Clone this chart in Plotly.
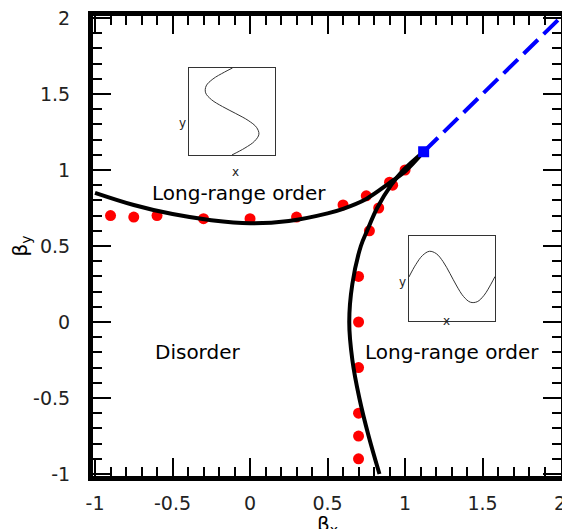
import plotly.graph_objects as go

# phase boundary (upper branch), beta_x -> beta_y
upper_x = [-1.0, -0.75, -0.5, -0.25, 0.0, 0.25, 0.5, 0.6, 0.75, 0.9, 1.0, 1.12]
upper_y = [0.85, 0.77, 0.71, 0.67, 0.65, 0.665, 0.715, 0.745, 0.81, 0.915, 0.99, 1.12]

# phase boundary (right branch)
lower_y = [1.12, 1.0, 0.9, 0.75, 0.6, 0.5, 0.25, 0.0, -0.25, -0.5, -0.75, -1.0]
lower_x = [1.12, 0.99, 0.91, 0.82, 0.755, 0.715, 0.66, 0.64, 0.66, 0.705, 0.765, 0.835]

# simulation points
pts_x = [-0.9, -0.75, -0.6, -0.3, 0.0, 0.3, 0.6, 0.75, 0.9, 1.0,
         0.92, 0.83, 0.77, 0.7, 0.7, 0.7, 0.7, 0.7, 0.7]
pts_y = [0.70, 0.69, 0.70, 0.68, 0.68, 0.69, 0.77, 0.83, 0.92, 1.0,
         0.90, 0.75, 0.60, 0.30, 0.0, -0.30, -0.60, -0.75, -0.90]

# critical point and first-order line
crit_x = [1.12]
crit_y = [1.12]
diag_x = [1.12, 2.0]
diag_y = [1.12, 2.0]

# inset sketches (one period of the modulation)
wave_t = [0.0, 0.5, 1.0, 1.5, 2.0, 2.5, 3.0, 3.5, 4.0, 4.5, 5.0, 5.5, 6.0, 6.3]
wave_v = [0.0, 0.48, 0.84, 1.0, 0.91, 0.6, 0.14, -0.35, -0.76, -0.98, -0.96, -0.71, -0.28, 0.02]

tick_vals = [-1, -0.5, 0, 0.5, 1, 1.5, 2]
tick_text = ["-1", "-0.5", "0", "0.5", "1", "1.5", "2"]

fig = go.Figure()

fig.add_trace(go.Scatter(x=pts_x, y=pts_y, mode="markers",
                         marker=dict(color="#ff0000", size=11), showlegend=False))
fig.add_trace(go.Scatter(x=upper_x, y=upper_y, mode="lines",
                         line=dict(color="black", width=4, shape="spline"), showlegend=False))
fig.add_trace(go.Scatter(x=lower_x, y=lower_y, mode="lines",
                         line=dict(color="black", width=4, shape="spline"), showlegend=False))
fig.add_trace(go.Scatter(x=diag_x, y=diag_y, mode="lines",
                         line=dict(color="#0000ff", width=4, dash="20px,8px"), showlegend=False))
fig.add_trace(go.Scatter(x=crit_x, y=crit_y, mode="markers",
                         marker=dict(color="#0000ff", size=11, symbol="square"), showlegend=False))

# insets
fig.add_trace(go.Scatter(x=wave_v, y=wave_t, mode="lines", xaxis="x2", yaxis="y2",
                         line=dict(color="#333", width=1, shape="spline"), showlegend=False))
fig.add_trace(go.Scatter(x=wave_t, y=wave_v, mode="lines", xaxis="x3", yaxis="y3",
                         line=dict(color="#333", width=1, shape="spline"), showlegend=False))

main_ax = dict(
    tickmode="array", tickvals=tick_vals, ticktext=tick_text,
    ticks="inside", ticklen=18, tickwidth=2, tickcolor="black",
    minor=dict(dtick=0.1, tick0=-1, ticks="inside", ticklen=9, tickwidth=2, tickcolor="black"),
    showline=True, linewidth=5, linecolor="black", mirror="allticks",
    showgrid=False, zeroline=False, automargin=False, ticklabeloverflow="allow",
    tickfont=dict(size=19, color="#222"),
)

inset_ax = dict(showline=True, linewidth=1, linecolor="#333", mirror=True,
                showticklabels=False, ticks="", showgrid=False, zeroline=False)

lab = dict(showarrow=False, xref="paper", yref="paper", font=dict(size=12, color="#222"))

# the page body adds 8px around the figure, so the figure is 8px smaller
fig.update_layout(
    width=562, height=521,
    margin=dict(l=85, r=9, t=8, b=53),
    plot_bgcolor="white", paper_bgcolor="white",
    font=dict(family="DejaVu Sans", color="black"),
    xaxis=dict(main_ax, range=[-1.013, 2.006], ticklabelstandoff=6),
    yaxis=dict(main_ax, range=[-1.013, 2.013], ticklabelstandoff=14,
               title=dict(text="β<sub>y</sub>", font=dict(size=20), standoff=4)),
    xaxis2=dict(inset_ax, domain=[0.205, 0.389], range=[-1.6, 1.6], anchor="y2"),
    yaxis2=dict(inset_ax, domain=[0.698, 0.887], range=[0, 6.3], anchor="x2"),
    xaxis3=dict(inset_ax, domain=[0.675, 0.859], range=[0, 6.3], anchor="y3"),
    yaxis3=dict(inset_ax, domain=[0.337, 0.522], range=[-1.71, 1.6], anchor="x3"),
    annotations=[
        # x axis title, placed by hand so it sits right at the bottom edge
        dict(x=0.5, y=-0.074, text="β<sub>x</sub>", showarrow=False, xref="paper", yref="paper",
             yanchor="top", font=dict(size=20)),
        dict(x=-0.073, y=0.849, text="Long-range order", showarrow=False,
             font=dict(size=20), xref="x", yref="y"),
        dict(x=-0.342, y=-0.197, text="Disorder", showarrow=False,
             font=dict(size=20), xref="x", yref="y"),
        dict(x=1.303, y=-0.197, text="Long-range order", showarrow=False,
             font=dict(size=20), xref="x", yref="y"),
        dict(lab, x=0.18, y=0.786, text="y"),
        dict(lab, x=0.293, y=0.681, text="x"),
        dict(lab, x=0.662, y=0.421, text="y"),
        dict(lab, x=0.768, y=0.318, text="x"),
    ],
)

fig.write_html("out.html")
